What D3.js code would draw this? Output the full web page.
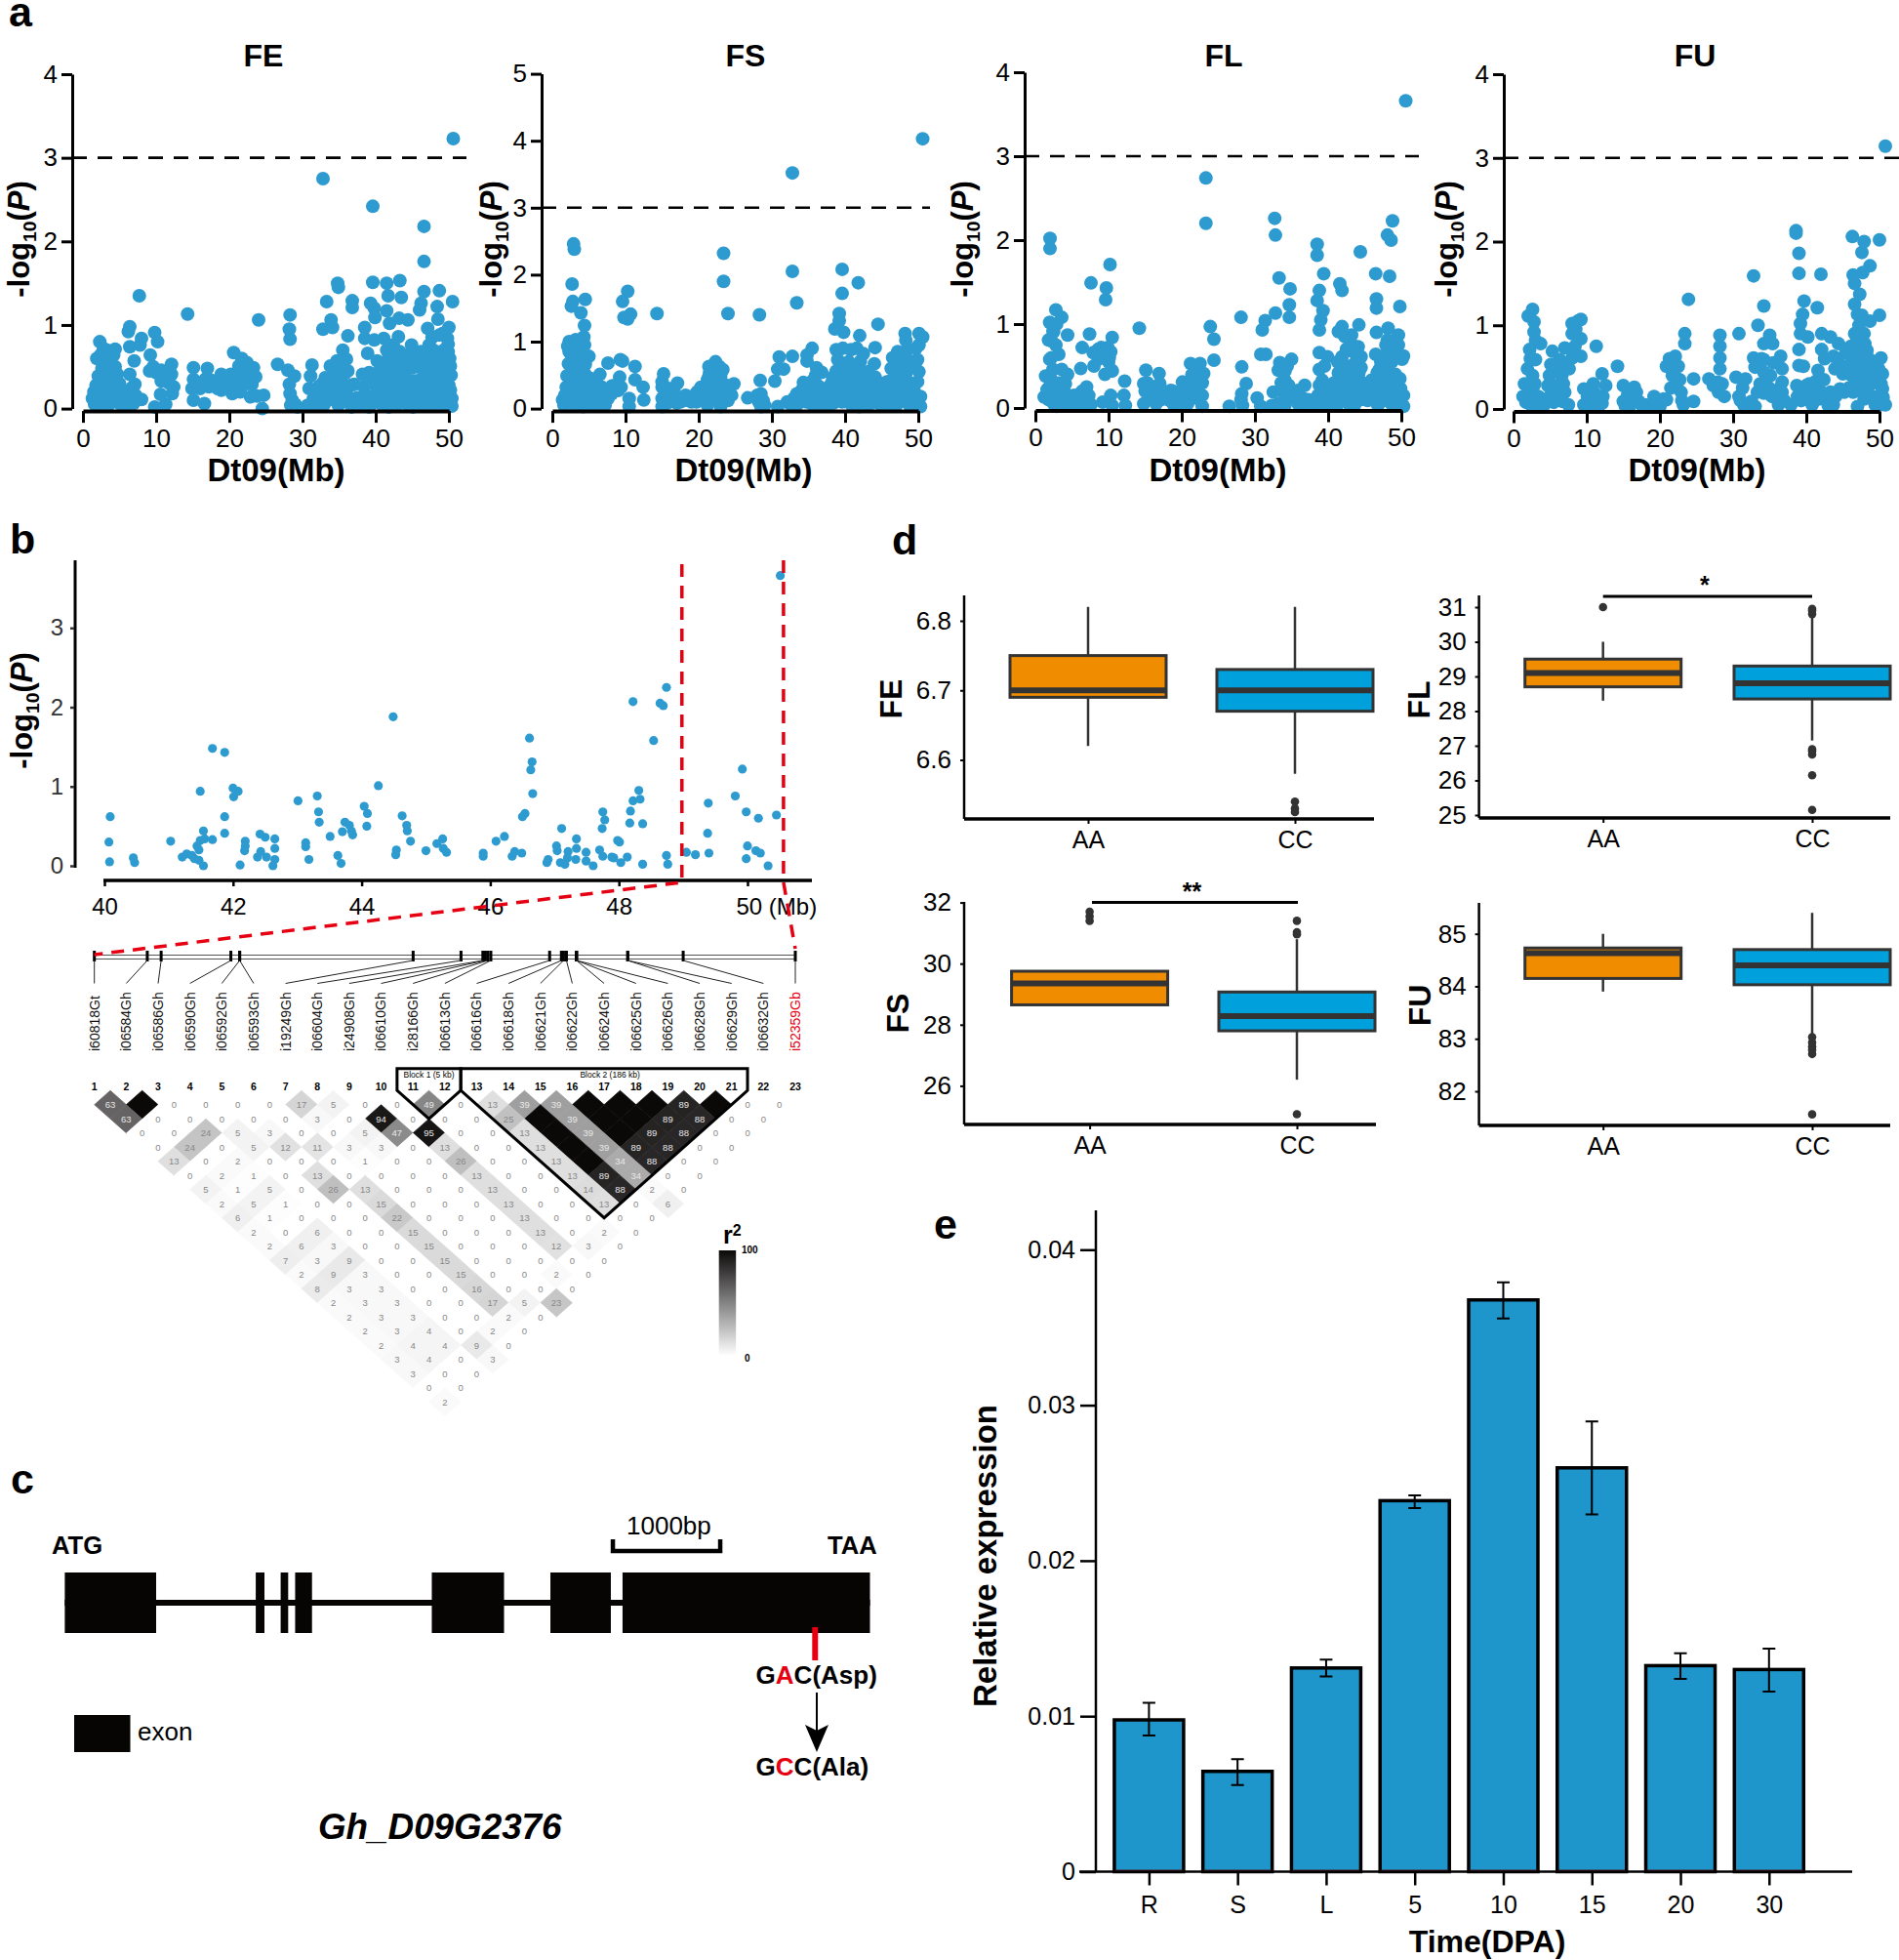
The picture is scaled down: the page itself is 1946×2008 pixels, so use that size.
<!DOCTYPE html>
<html>
<head>
<meta charset="utf-8">
<title>Dt09 association</title>
<script src="https://cdn.jsdelivr.net/npm/d3@7"></script>
<style>
body { margin: 0; background: #fff; }
svg text { font-family: "Liberation Sans", Arial, sans-serif; fill: #000; }
</style>
</head>
<body>
<div id="fig"></div>
<script>
// panel a : [Mb, -log10(P)]
var feDots = [[50.6,3.23],[32.8,2.75],[39.6,2.42],[46.6,2.18],[46.6,1.76],[7.7,1.35],[14.3,1.13],[24,1.06],[28.3,1.12],[28.2,.95],[28.3,.83],[33.3,1.28],[34.8,1.5],[34.9,1.45],[36.8,1.29],[36.8,1.21],[36.2,.87],[33.9,1.06],[34.1,.97],[32.8,.95],[35.5,.7],[39.6,1.51],[41.5,1.5],[43.3,1.53],[43.5,1.33],[41.7,1.35],[39.3,1.26],[39.8,1.2],[39.9,1.09],[41.5,1.17],[41.9,1.02],[43.2,1.08],[44.4,1.06],[46.6,1.4],[46.2,1.26],[46,1.18],[48.7,1.41],[48.4,1.22],[50.5,1.28],[48.5,1.07],[47.1,.96],[50,.97],[38.5,.97],[38.5,.84],
[2.3,.8],[4.4,.71],[6.4,.98],[6.2,.92],[9.8,.91],[10.2,.8],[8,.84],[6.4,.74],[7.8,.76],[9.2,.64],[7,.57],[2.4,.64],[3.6,.6],[4.2,.64],[3.8,.45],[2.1,.39],[6.4,.41],[4.7,.41],[7.1,.29],[1.8,.28],[1.3,.12],[2.9,.14],[4.7,.22],[6.4,.14],[8,.11],[5.6,.08],[3.8,.08],[2.2,.06],[6.9,.06],
[9.1,.45],[10.7,.46],[12.1,.53],[12.1,.41],[10.7,.33],[12.4,.26],[10.6,.17],[11.3,.05],[9.8,.02],[15.1,.49],[17,.48],[14.9,.24],[15.1,.1],[16.6,.06],[15.1,.35],[16.7,.35],[18,.29],[18.9,.41],[18.9,.22],[20.6,.67],[20.4,.18],[20.2,.41],[21.3,.51],[22.4,.55],[23.3,.49],[21.8,.33],[23.1,.29],[22.9,.14],[24.7,.16],[24.5,0],
[26.6,.53],[28,.46],[28.9,.39],[28.2,.29],[28.3,.18],[28.4,.04],[30.7,.04],[30.9,.24],[31.3,.52],[31.1,.39],[32.2,.26],[33.1,.37],[33.8,.51],[34.7,.57],[36,.59],[34.2,.41],[36.2,.45],[36.7,.28],[33.6,.2],[35.8,.16],[32.9,.04],[34.9,.04],[36.7,.02],[38,.04],[39.1,.02],[38.2,.41],[39.1,.43],[37.1,.29],[38.4,.26],
[38.9,.66],[40.2,.57],[39.8,.82],[41.1,.84],[43.1,.86],[44.9,.76],[42.4,.76],[43.3,.68],[41.8,.64],[44.2,.59],[41.8,.49],[43.3,.49],[45.1,.49],[41.3,.33],[42.9,.33],[44.4,.33],[40.7,.2],[42.4,.2],[44.2,.2],[41.8,.02],[42.9,.04],[40,.08],[45.6,.18],[44.4,.04],
[46.2,.68],[47.3,.76],[48.2,.57],[47.6,.49],[46.4,.37],[49.8,.84],[48.7,.88],[49.9,.68],[50.2,.51],[49.8,.37],[47.8,.33],[49.1,.33],[50.2,.22],[50,.12],[50.4,.03],[48.2,.2],[46.9,.14],[49.1,.06],[46.7,.04],[45.1,.02]];
var feDense = [[1.5,.2],[1.6,.05],[2,.18],[2.5,.3],[2.6,.48],[3,.4],[3.1,.22],[3.3,.55],[3.4,.03],[4,.3],[4.2,.15],[4.4,.5],[5,.06],[5,.3],[5.2,.18],[5.8,.2],[6,.03],[6.7,.25],[7.2,.16],[2.8,.72],[3.3,.7],[1.9,.6],
[9.6,.5],[10,.43],[11.3,.38],[11.8,.3],[12.2,.18],[15.6,.3],[16,.24],[16.4,.3],[17.2,.26],[17.5,.34],[18.4,.24],[19,.3],[19.5,.33],[20.8,.25],[21,.4],[21.5,.2],[22,.45],[22.5,.3],[23,.4],[23.6,.38],[23.8,.15],[21.7,.6],[22.8,.48],[20,.27],
[28.6,.1],[29,.05],[29.3,.02],[31.5,.12],[31.9,.03],[32.4,.13],[32.7,.3],[33.3,.26],[33.5,.1],[34,.3],[34.4,.13],[34.6,.25],[35.1,.35],[35.3,.48],[35.6,.28],[35.8,.42],[36.3,.14],[36.6,.05],[37.5,.13],
[38.9,.14],[39.4,.3],[39.7,.15],[40.2,.33],[40.5,.45],[40.7,.06],[41,.25],[41.2,.55],[41.3,.13],[41.5,.7],[41.9,.27],[42,.4],[42.1,.12],[42.5,.55],[42.6,.05],[42.8,.62],[43,.22],[43.1,.13],[43.5,.38],[43.6,.58],[43.8,.1],[43.9,.28],[44,.43],[44.6,.22],[44.7,.65],[45,.33],[45.3,.6],[45.4,.1],[45.5,.33],[45.9,.5],[45.9,.05],[46.4,.55],[46.5,.25],[46.6,.1],[47,.6],[47.1,.25],[47.3,.42],[47.4,.05],[47.7,.15],[47.9,.7],[48,.05],[48.4,.4],[48.6,.12],[48.9,.6],[49,.45],[49.3,.7],[49.4,.18],[49.5,.03],[49.6,.5],[50,.28],[50.1,.6],[50.3,.4],[50.4,.12],[49.9,.77],[49.2,.9],[47.7,.85]];

var fsDots = [[50.6,4.03],[32.8,3.52],[2.9,2.46],[3,2.38],[2.7,1.86],[2.8,1.6],[2.6,1.53],[3.9,1.43],[4.5,1.63],[4.4,1.24],[4.3,1.07],[2.3,1],[2.1,.93],[2.3,.85],[4.4,.95],[3.6,.88],[5,.78],[4.5,.66],[2.2,.67],[2,.49],[1.9,.32],[1.4,.13],[4.5,.51],[3.2,.42],[4.8,.37],[3,.22],[4.5,.17],[6.5,.51],[7.6,.68],[9.3,.73],[9.6,.71],[9.2,.47],[8.2,.34],[9.4,.32],[6.8,.32],[8.1,.22],[6.3,.17],[7.2,.05],[5.6,.05],[3.6,.05],[1.6,.05],
[10.3,1.75],[9.6,1.6],[10.7,1.41],[9.8,1.36],[10.3,1.34],[14.3,1.42],[11.3,.63],[11.3,.43],[12.4,.32],[10.5,.15],[12.5,.13],[10.5,.03],[15.2,.52],[15,.32],[15,.15],[17.1,.38],[16.1,.22],[15,.03],[17,.17],[18.8,.17],
[20.3,.32],[21.4,.63],[22.8,.63],[21.4,.49],[23,.49],[24.8,.37],[24.5,.2],[21,.27],[23.4,.37],[21.2,.05],[23,.03],[22.1,.32],[20.1,.15],[23,.2],[24,1.42],[23.4,2.32],[23.4,1.9],[28.3,1.4],[32.8,2.05],[33.4,1.58],[39.6,2.08],[39.6,1.72],[41.8,1.88],[44.5,1.26],
[28.4,.42],[26.7,.16],[28.5,.22],[28.5,.03],[30.4,.41],[30.8,.59],[31.6,.59],[31,.77],[32.8,.78],[30.8,.03],[35.5,.9],[34.8,.8],[34.8,.71],[36.1,.61],[36.8,.54],[36.3,.34],[34.3,.39],[33.4,.22],[32.1,.1],[35,.17],[36.5,.05],[38.1,.37],[37.9,.08],
[39.2,1.42],[39.2,1.31],[38.6,1.19],[39.8,1.14],[42,1.09],[41.6,.9],[44.1,.91],[44,.67],[38.8,.88],[39.7,.9],[39,.73],[40.8,.88],[38.8,.56],[42.1,.71],[42.3,.56],[39.9,.32],[39.2,.47],[40.6,.47],[42.3,.32],[44.1,.47],[40.1,.15],[41.9,.03],[43.6,.08],[45,.37],[44.5,.15],
[48.2,1.12],[48.3,1.02],[50.1,1.12],[50.6,1.07],[50.1,.95],[47.2,.85],[46.5,.76],[49.9,.73],[50.1,.55],[48.5,.88],[48.1,.76],[46.7,.61],[48.3,.51],[46.3,.42],[47.9,.32],[46.1,.25],[50.3,.18],[48.5,.22],[47.2,.13],[46.1,.05],[48.8,.05],[50.3,.03]];
var fsDense = [[1.7,.2],[2.2,.3],[2.5,.15],[2.6,.4],[2.7,.75],[3,.55],[3,.05],[3.1,.35],[3.4,.25],[3.5,.5],[3.9,.13],[3.9,.33],[4,.6],[4.2,.03],[4.4,.25],[4.7,.05],[4.9,.28],[5.2,.15],[5.4,.38],[5.6,.25],[5.9,.1],[6.2,.35],[6.4,.04],[6.7,.18],[7,.12],[7.4,.27],[7.6,.15],[7.9,.3],[8.5,.3],[8.8,.35],[9,.27],[5.2,.45],[3.6,.72],[3.2,1.03],
[15.4,.25],[15.7,.08],[15.9,.3],[16.3,.12],[16.6,.28],[17,.08],[17.5,.1],[18,.12],[18.2,.2],[19,.1],[19.4,.2],[19.7,.1],[15,.4],
[20.7,.2],[21.2,.43],[21.5,.55],[22,.48],[22.3,.7],[22.6,.4],[22.8,.25],[23.3,.58],[23.7,.27],[24,.12],[21.7,.12],[21.5,.3],[19.8,.25],[28,.2],[28.2,.1],[28.8,.12],[29,.05],
[32.5,.07],[33,.15],[33.4,.05],[33.8,.13],[34.1,.28],[34.5,.22],[34.7,.1],[35,.31],[35.3,.22],[35.6,.05],[35.6,.42],[36,.5],[36.2,.15],[36.7,.28],[37,.18],[37.4,.3],[37.5,.05],[38,.2],[38.3,.47],[38.4,.08],
[38.7,.35],[39.1,.22],[39.4,.62],[39.6,.1],[40,.6],[40.4,.22],[40.5,.7],[40.9,.05],[41,.35],[41.2,.13],[41.4,.55],[41.7,.42],[41.8,.25],[42.1,.15],[42.5,.82],[42.6,.45],[42.9,.25],[43.1,.05],[43.2,.55],[43.4,.35],[43.7,.2],[44.3,.3],[44.8,.25],[44.9,.05],[45.3,.12],[45.5,.27],[45.7,.4],[46,.15],[46.3,.6],[46.5,.3],[46.8,.42],[47,.05],[47.2,.55],[47.4,.3],[47.6,.68],[47.7,.12],[47.9,.45],[48.2,.3],[48.4,.1],[48.8,.6],[48.9,.38],[49,.15],[49.2,.7],[49.4,.28],[49.7,.1],[49.7,.9],[49.9,.4]];

var flDots = [[50.6,3.66],[23.3,2.74],[23.3,2.2],[32.7,2.26],[32.8,2.06],[48.8,2.23],[48.1,2.06],[48.6,2],[38.5,1.95],[38.5,1.82],[44.4,1.86],[2,2.02],[2,1.9],[10.2,1.71],[7.6,1.49],[9.7,1.43],[9.6,1.29],[39.4,1.6],[33.3,1.55],[34.8,1.42],[34.7,1.23],[34.7,1.08],[32.8,1.13],[46.5,1.6],[48.4,1.57],[41.6,1.48],[41.9,1.4],[46.6,1.3],[46.6,1.19],[49.8,1.21],[38.8,1.4],[38.5,1.28],[39.3,1.16],[39,1.05],[38.8,.93],[44.2,.99],[28.1,1.08],[23.9,.97],[24.4,.82],[24.4,.57],[31.4,1.04],[31,.93],[14.2,.95],
[2.8,1.17],[3.6,1.08],[1.96,1.02],[2.5,.91],[4.4,.87],[1.8,.81],[2.8,.75],[3.2,.64],[1.96,.58],[1.4,.38],[3.6,.46],[4.4,.4],[1.9,.25],[1.2,.13],[4.1,.29],[2.5,.05],[4.5,.15],[7,.25],[6.1,.17],[6.8,.05],[5,.05],
[7.4,.88],[6.4,.72],[6.2,.47],[7.9,.66],[8,.5],[9,.72],[10.5,.84],[10.3,.67],[10.5,.44],[9.5,.4],[9.2,.07],[10.3,.15],[12.2,.32],[12.1,.15],[12.3,.03],[10.5,.03],
[15.1,.45],[16.9,.41],[14.8,.29],[15.6,.21],[14.8,.05],[16.5,.05],[17,.29],[18.5,.21],[18.8,.05],[20.1,.31],[21.2,.53],[22.5,.53],[23,.41],[21.4,.4],[22.1,.29],[20.5,.17],[22.8,.15],[22.8,.02],[19.6,.07],
[26.5,.02],[28.2,.49],[28.8,.29],[28.2,.17],[28.3,.03],[30.3,.12],[30.8,.02],[32.3,.03],[30.8,.64],[31.5,.64],[33.4,.54],[35,.58],[34.1,.44],[34.1,.33],[32.5,.19],[34.1,.15],[34.1,.03],[36.8,.27],[35.9,.21],[35.9,.05],[37.9,.07],
[38.8,.66],[39.9,.61],[38.8,.46],[39.2,.33],[39.2,.17],[39.6,.03],[41.4,.91],[41.9,.97],[42.3,.85],[43.2,.87],[44.1,.73],[43.4,.67],[41.9,.61],[44.5,.61],[43,.5],[44.5,.48],[41.4,.42],[42.8,.33],[44.3,.33],[41.6,.21],[43.2,.17],[41.2,.03],[43.6,.03],
[46.6,.9],[48.2,.95],[49.6,.87],[48.1,.81],[49.6,.75],[46.5,.64],[50.3,.62],[50.1,.58],[47.6,.62],[48.1,.48],[47,.46],[49.2,.4],[45.9,.33],[47.8,.33],[49.9,.23],[50.3,.15],[46.8,.19],[48.1,.13],[45.4,.09],[46.8,.03],[48.8,.03],[50.3,.02]];
var flDense = [[1.6,.22],[1.8,.1],[2.1,.35],[2.2,.6],[2.2,.15],[2.4,.92],[2.4,.46],[2.8,.3],[2.9,.02],[2.9,1],[3,.2],[3.3,.1],[3.5,.3],[3.8,.04],[4,.18],[4.8,.1],[5.3,.15],[5.7,.03],[5.9,.12],[6.4,.2],[6.6,.12],[7.3,.15],[7.6,.04],[2.2,.8],
[8.6,.58],[8.8,.63],[9.4,.6],[10,.55],[10.4,.45],[9.9,.72],[10.1,.6],[8.6,.7],
[15,.2],[15.3,.3],[15.4,.1],[16,.15],[16.3,.25],[16.7,.12],[17.2,.1],[17.6,.15],[18.1,.1],[18.8,.2],[19.2,.12],[20,.2],[20.6,.3],[21,.2],[21.4,.28],[21.7,.12],[22,.42],[22.3,.15],[22.6,.4],[22.8,.3],[20.8,.05],[19.9,.05],
[28.1,.1],[33.2,.45],[33.6,.3],[33.9,.22],[34.4,.5],[34.6,.27],[33.2,.05],[34.5,.1],[35,.12],[36,.13],[36.5,.12],[36.9,.05],[37.3,.1],[38.2,.05],[38.6,.15],[38.8,.27],
[39.5,.5],[39.9,.2],[40.3,.1],[40.6,.05],[40.8,.3],[41.1,.15],[41.3,.55],[41.7,.35],[42,.25],[42.2,.12],[42.3,.48],[42.5,.7],[42.8,.05],[43,.28],[43.3,.75],[43.6,.38],[43.7,.12],[43.8,.55],[44,.22],[44.2,.42],[44.5,.1],[44.7,.22],[45.2,.2],[45.5,.28],[45.7,.12],[46.2,.25],[46.4,.1],[46.7,.42],[47.1,.28],[47.2,.55],[47.3,.08],[47.5,.2],[47.7,.45],[47.9,.75],[48.3,.25],[48.5,.07],[48.6,.35],[48.9,.15],[49,.68],[49.1,.05],[49.4,.25],[49.6,.1],[49.8,.35],[50,.05],[48.7,.55]];

var fuDots = [[50.8,3.14],[38.6,2.13],[38.6,2.1],[39,1.86],[39,1.62],[42,1.61],[32.8,1.59],[23.9,1.31],[34.2,1.23],[39.7,1.29],[39.5,1.13],[41.5,1.21],[33.4,1],[30.8,.9],[35,.88],[23.4,.9],[23.4,.78],[46.3,2.06],[47.9,2],[47.6,1.87],[50,2.02],[48.7,1.71],[47.7,1.63],[46.4,1.6],[46.6,1.5],[47.3,1.37],[46.6,1.25],[47,1.13],[50,1.12],[48.7,1.05],
[39.2,1.02],[39.2,.9],[39,.71],[40.2,.86],[42.1,.9],[42.1,.71],[43.3,.86],[44.4,.78],[43.7,.63],[44.6,.53],[45.4,.67],[46.6,.9],[47.9,.9],[48,.78],[47,.67],[47,.51],[48.7,.59],[50.2,.61],[46.2,.4],[48.7,.4],[50.4,.42],[50.4,.24],[47.9,.28],[49.1,.13],[47,.03],[50.8,.05],[44.6,.24],[42.1,.2],[41.6,.46],[39.6,.51],[40,.28],[38.7,.28],[36.7,.2],[37.9,.05],[40.8,.05],[43.7,.05],[36.2,.05],
[35.4,.78],[34.2,.78],[34.2,.59],[36.5,.63],[36.7,.48],[34.2,.44],[32.8,.61],[33.7,.3],[36.7,.32],[32.5,.09],[34.2,.19],[30.4,.38],[31.7,.36],[30.8,.15],
[28.2,.88],[28.2,.75],[28.2,.61],[28.2,.48],[27.9,.32],[28.8,.15],[26.7,.36],[24.6,.36],[24.6,.09],[23.2,.05],[22.1,.63],[20.9,.51],[21.7,.4],[22.5,.51],[22.1,.28],[22.9,.2],[19.2,.15],[20.9,.11],[18,.05],
[14.2,.51],[15,.28],[16.5,.26],[15,.09],[17.1,.09],[9.6,.24],[10.9,.3],[12.1,.42],[11.3,.75],[12.6,.28],[9.6,.05],[12.1,.07],
[2.6,1.19],[2,1.11],[2.8,1.04],[2.8,.92],[3.7,.78],[2.2,.71],[3,.59],[1.9,.48],[2.6,.4],[1.3,.15],[2.6,.24],[4.2,.05],[4.7,.28],[5.3,.69],[5.1,.53],[7,.73],[6.3,.59],[8,1.02],[9.2,1.07],[8,.9],[9.2,.84],[9.2,.63],[7.6,.48],[6.3,.28],[6.7,.09],[8.8,1.05],[8,.61]];
var fuDense = [[1.5,.3],[1.7,.08],[2,.2],[2.4,.05],[2.9,.3],[3.1,.1],[3.4,.15],[3.6,.05],[3,.82],[2.3,.6],[4.5,.12],[4.9,.4],[5.2,.2],[5.5,.08],[5.8,.28],[6,.45],[6.2,.12],[6.6,.4],[7,.2],[7.3,.55],[7.5,.05],[8.4,.75],[8.5,.95],[8.8,.85],[6.8,.3],
[10.1,.15],[10.2,.05],[10.8,.1],[11,.2],[11.5,.12],[11.6,.03],[12.2,.15],
[15.6,.17],[15.3,.03],[16,.05],[16.8,.2],[17.5,.05],[18.5,.03],[19.5,.08],[20,.03],[20.5,.12],[21.8,.55],[21.3,.6],[21.5,.25],[22,.4],[22.7,.35],[23,.1],
[28.5,.3],[28,.2],[27.3,.28],[31,.1],[31.3,.25],[31.5,.04],[32,.05],[33,.03],[33.3,.2],[33,.5],[33.9,.6],[34.5,.35],[34.9,.25],[35.1,.4],[35.3,.15],[35.5,.55],[37,.1],[36.4,.25],
[38.8,.15],[39,.52],[39.3,.1],[39.6,.2],[40.4,.3],[40.6,.15],[41,.22],[41.3,.33],[41.7,.12],[42.4,.35],[42.7,.12],[42.5,.6],[43,.04],[43.3,.2],[43.9,.48],[44,.15],[44.3,.6],[45,.42],[45.2,.2],[45.7,.5],[45.8,.25],[46.1,.75],[46.2,.6],[46.4,.2],[46.6,.35],[46.9,.85],[47.2,1],[47.3,.4],[47.3,.75],[47.5,.22],[47.6,1.12],[47.7,.55],[47.9,.12],[48.2,.45],[48.3,.7],[48.4,.2],[48.9,.3],[49.2,.5],[49.4,.05],[49.6,.33],[49.7,.15],[49.9,.48],[50,.05],[50.2,.3],[50.5,.14]];

var xTicksA = [0,10,20,30,40,50];
var threshold = 3;

// panel b
var zoomDots = [[40.09,.62],[40.07,.3],[40.08,.05],[40.45,.1],[40.47,.04],[41.03,.31],[41.21,.11],[41.28,.15],[41.36,.13],[41.4,.09],[41.44,.25],[41.47,.2],[41.49,.32],[41.49,.94],[41.54,.44],[41.54,0],[41.47,.07],[41.56,.34],[41.68,.33],[41.68,1.48],[41.87,1.43],[41.87,.62],[41.87,.41],[42,.98],[42.01,.87],[42.08,.94],[42.11,.01],[42.19,.31],[42.19,.25],[42.18,.19],[42.42,.4],[42.38,.11],[42.43,.18],[42.5,.36],[42.52,.11],[42.65,.34],[42.65,.22],[42.62,0],[42.65,.08],
[43.01,.82],[43.31,.88],[43.33,.68],[43.34,.55],[43.13,.29],[43.13,.24],[43.18,.08],[43.51,.37],[43.63,.13],[43.68,.03],[43.7,.43],[43.74,.55],[43.81,.51],[43.84,.44],[43.86,.39],[44.04,.75],[44.09,.66],[44.08,.5],[44.26,1.01],[44.49,1.88],[44.63,.63],[44.7,.51],[44.71,.44],[44.76,.31],[44.54,.2],[44.53,.14],
[45,.19],[45.17,.28],[45.26,.34],[45.27,.22],[45.32,.17],[45.89,.16],[45.89,.12],[46.09,.31],[46.22,.37],[46.34,.12],[46.38,.18],[46.49,.16],[46.5,.62],[46.54,.66],[46.61,1.61],[46.65,1.31],[46.63,1.21],[46.66,.91],
[46.88,.04],[46.9,.08],[47.03,.25],[47.04,.19],[47.11,.47],[47.09,.04],[47.16,.02],[47.21,.18],[47.2,.1],[47.34,.34],[47.34,.22],[47.33,.08],[47.49,.17],[47.49,.06],[47.6,0],[47.7,.2],[47.74,.47],[47.75,.68],[47.78,.58],[47.75,.12],[47.89,.11],[47.92,.1],[47.98,.32],[48.01,.3],[48.03,.04],[48.13,.11],[48.17,.54],[48.18,.69],[48.22,2.07],[48.22,.82],[48.33,.84],[48.31,.95],[48.37,.53],[48.37,.02],[48.54,1.58],[48.64,2.05],[48.69,2.02],[48.74,2.25],[48.74,.13],[48.76,.02],
[49.05,.17],[49.19,.14],[49.39,.79],[49.38,.41],[49.4,.16],[49.81,.88],[49.92,1.22],[49.98,.68],[50,.25],[49.98,.09],[50.17,.6],[50.13,.19],[50.2,.16],[50.32,0],[50.45,.64],[50.51,3.66]];
var zoomStart = 48.98, zoomEnd = 50.56;

var markerNames = ["i60818Gt","i06584Gh","i06586Gh","i06590Gh","i06592Gh","i06593Gh","i19249Gh","i06604Gh","i24908Gh","i06610Gh","i28166Gh","i06613Gh","i06616Gh","i06618Gh","i06621Gh","i06622Gh","i06624Gh","i06625Gh","i06626Gh","i06628Gh","i06629Gh","i06632Gh","i52359Gb"];
var markerKb = [0,126,159,325,346,346,759,873,925,931,937,944,1084,1112,1117,1124,1148,1148,1148,1270,1270,1402,1669];

// r2 x 100, one list per marker distance : ldRows[0] = neighbours, first value = marker 1 with marker 2
var ldRows = [
 [63,100,0,0,0,0,17,5,0,0,49,0,13,39,39,100,100,100,89,100,0,0],
 [63,0,0,0,0,0,3,0,94,0,0,0,25,100,39,100,100,89,88,0,0],
 [0,0,24,5,3,0,0,5,47,95,0,0,13,100,39,100,89,88,0,0],
 [0,24,0,5,12,11,3,3,0,13,0,0,13,100,39,89,88,0,0],
 [13,0,2,0,0,0,1,0,0,26,0,0,13,100,34,88,0,0],
 [0,2,1,0,13,0,0,0,0,13,0,0,13,89,34,0,0],
 [5,1,5,0,26,13,0,0,0,13,0,0,14,88,2,0],
 [2,5,1,0,0,15,0,0,0,13,0,0,13,0,6],
 [6,1,0,0,0,22,0,0,0,13,0,0,0,0],
 [2,0,6,0,0,15,0,0,0,13,0,2,0],
 [2,6,3,0,0,15,0,0,0,12,3,0],
 [7,3,9,0,0,15,0,0,0,0,0],
 [2,9,3,0,0,15,0,0,2,0],
 [8,3,3,0,0,16,0,0,0],
 [2,3,3,0,0,17,5,23],
 [2,3,3,0,0,2,0],
 [2,3,4,0,2,0],
 [2,4,4,9,0],
 [3,4,0,3],
 [3,0,0],
 [0,0],
 [2]
];
var ldBlocks = [{from:11,to:12,label:"Block 1 (5 kb)"},{from:13,to:21,label:"Block 2 (186 kb)"}];

// panel c, bp from the start of the gene
var exons = [[0,851],[1779,1860],[2011,2081],[2146,2303],[3419,4092],[4524,5087],[5196,7501]];
var snpBp = 6990;

// panel d
var feBox = [{g:"AA",lo:6.62,q1:6.69,med:6.7,q3:6.75,hi:6.82,out:[]},{g:"CC",lo:6.58,q1:6.67,med:6.7,q3:6.73,hi:6.82,out:[6.54,6.53,6.525]}];
var flBox = [{g:"AA",lo:28.3,q1:28.7,med:29.1,q3:29.5,hi:30,out:[31]},{g:"CC",lo:27.15,q1:28.35,med:28.8,q3:29.3,hi:30.7,out:[30.8,30.9,30.95,26.9,26.85,26.75,26.15,25.15]}];
var fsBox = [{g:"AA",lo:28.65,q1:28.65,med:29.35,q3:29.75,hi:29.75,out:[31.4,31.55,31.7]},{g:"CC",lo:26.2,q1:27.8,med:28.28,q3:29.07,hi:30.8,out:[31.03,30.96,31.4,25.07]}];
var fuBox = [{g:"AA",lo:83.9,q1:84.15,med:84.63,q3:84.73,hi:85,out:[]},{g:"CC",lo:83.08,q1:84.03,med:84.4,q3:84.7,hi:85.4,out:[83.03,82.93,82.85,82.79,82.71,81.56]}];

// panel e
var times = ["R","S","L","5","10","15","20","30"];
var expr = [.00976,.00645,.0131,.02386,.03677,.02597,.01325,.013];
var exprHi = [.01086,.00724,.01363,.0242,.0379,.02896,.01404,.01435];
var exprLo = [.00875,.00557,.01256,.02339,.03557,.02298,.0124,.01158];

var blue = "#2e9bd0";
var svg = d3.select("#fig").append("svg").attr("width",1946).attr("height",2008).style("display","block");
svg.append("rect").attr("width",1946).attr("height",2008).attr("fill","#fff");

function panelLabel(s,x,y) {
  svg.append("text").attr("x",x).attr("y",y).attr("font-size",43).attr("font-weight","bold").text(s);
}
function logLabel(g,x,y,size) {
  // -log10(P) turned on its side
  var t = g.append("text").attr("transform","translate("+x+","+y+") rotate(-90)")
    .attr("text-anchor","middle").attr("font-size",size).attr("font-weight","bold");
  t.append("tspan").text("-log");
  t.append("tspan").attr("font-size",size*.62).attr("dy",size*.22).text("10");
  t.append("tspan").attr("dy",-size*.22).text("(");
  t.append("tspan").attr("font-style","italic").text("P");
  t.append("tspan").text(")");
}
function axisStyle(g,size,w,col) {
  g.selectAll("text").attr("font-size",size).style("fill",col||"#000");
  g.selectAll("line").attr("stroke",col||"#000").attr("stroke-width",w);
  g.selectAll(".domain").attr("stroke",col||"#000").attr("stroke-width",w);
}

// ---- a
function gwas(o) {
  var g = svg.append("g");
  var x = d3.scaleLinear().domain([0,50]).range([o.x0,o.x50]);
  var y = d3.scaleLinear().domain([0,o.ymax]).range([o.y0,o.ytop]);
  g.selectAll("circle").data(o.dots).enter().append("circle")
    .attr("cx",d=>x(d[0])).attr("cy",d=>y(d[1])).attr("r",7).attr("fill",blue);
  var ya = g.append("g").attr("transform","translate("+o.ax+",0)")
    .call(d3.axisLeft(y).ticks(o.ymax).tickFormat(d3.format("d")).tickSize(11).tickSizeOuter(0).tickPadding(4));
  axisStyle(ya,26,3);
  var xa = g.append("g").attr("transform","translate(0,"+(o.y0+2.5)+")")
    .call(d3.axisBottom(x).tickValues(xTicksA).tickSize(12).tickSizeOuter(0).tickPadding(6));
  axisStyle(xa,26,3);
  xa.select(".domain").attr("stroke-width",4);
  g.append("line").attr("x1",o.ax).attr("x2",o.dashEnd).attr("y1",y(threshold)).attr("y2",y(threshold))
    .attr("stroke","#000").attr("stroke-width",2.6).attr("stroke-dasharray","15,11");
  g.append("text").attr("x",o.titleX).attr("y",68).attr("text-anchor","middle").attr("font-size",32).attr("font-weight","bold").text(o.title);
  g.append("text").attr("x",o.xlabX).attr("y",493).attr("text-anchor","middle").attr("font-size",33).attr("font-weight","bold").text("Dt09(Mb)");
  logLabel(g,o.logX,245,31);
}
gwas({title:"FE",dots:feDots.concat(feDense),ymax:4,ax:74,x0:85,x50:460,y0:418.6,ytop:76,dashEnd:478,titleX:270,xlabX:283,logX:30});
gwas({title:"FS",dots:fsDots.concat(fsDense),ymax:5,ax:555,x0:566,x50:941,y0:418.6,ytop:75.6,dashEnd:953,titleX:764,xlabX:762,logX:514});
gwas({title:"FL",dots:flDots.concat(flDense),ymax:4,ax:1050,x0:1061,x50:1436,y0:418,ytop:74,dashEnd:1454,titleX:1254,xlabX:1248,logX:997});
gwas({title:"FU",dots:fuDots.concat(fuDense),ymax:4,ax:1541,x0:1551,x50:1926,y0:419,ytop:76,dashEnd:1946,titleX:1737,xlabX:1739,logX:1493});

// ---- b manhattan
var gb = svg.append("g");
var xb = d3.scaleLinear().domain([40,50]).range([107,766]);
var yb = d3.scaleLinear().domain([0,3]).range([887,643.3]);
gb.selectAll("circle").data(zoomDots).enter().append("circle")
  .attr("cx",d=>xb(d[0])).attr("cy",d=>yb(d[1])).attr("r",4.6).attr("fill",blue);
gb.append("line").attr("x1",77).attr("x2",77).attr("y1",574).attr("y2",889).attr("stroke","#000").attr("stroke-width",3);
gb.append("line").attr("x1",106).attr("x2",832).attr("y1",902).attr("y2",902).attr("stroke","#000").attr("stroke-width",3.5);
var yba = gb.append("g").attr("transform","translate(76,0)")
  .call(d3.axisLeft(yb).tickValues([0,1,2,3]).tickFormat(d3.format("d")).tickSize(4).tickPadding(7));
yba.select(".domain").remove();
axisStyle(yba,24,2.5,"#333");
var xba = gb.append("g").attr("transform","translate(0,902)")
  .call(d3.axisBottom(xb).tickValues([40,42,44,46,48,50]).tickFormat(d=>d==50?"50 (Mb)":d).tickSize(6).tickPadding(12));
xba.select(".domain").remove();
axisStyle(xba,24,2.5);
xba.selectAll("text").filter(d=>d==50).attr("text-anchor","start").attr("dx",-12);
logLabel(gb,33,728,31);

// ---- b LD track
var gt = svg.append("g");
var xk = d3.scaleLinear().domain([0,1669]).range([96.7,815]);
var xm = d3.scaleLinear().domain([1,23]).range([96.7,815]);
gt.append("line").attr("x1",xk(0)).attr("x2",xk(1669)).attr("y1",978.5).attr("y2",978.5).attr("stroke","#555").attr("stroke-width",1);
gt.append("line").attr("x1",xk(0)).attr("x2",xk(1669)).attr("y1",982.5).attr("y2",982.5).attr("stroke","#555").attr("stroke-width",1);
gt.selectAll(".tk").data(markerKb).enter().append("rect").attr("class","tk")
  .attr("x",d=>xk(d)-1.5).attr("width",3).attr("y",974).attr("height",11).attr("fill","#000");
gt.selectAll(".cn").data(markerKb).enter().append("line").attr("class","cn")
  .attr("x1",d=>xk(d)).attr("y1",984).attr("x2",(d,i)=>xm(i+1)).attr("y2",1007.5)
  .attr("stroke","#222").attr("stroke-width",1);
gt.selectAll(".nm").data(markerNames).enter().append("text").attr("class","nm")
  .attr("transform",(d,i)=>"translate("+xm(i+1)+",1077) rotate(-90)")
  .attr("dy",".35em").attr("font-size",14).text(d=>d)
  .style("fill",(d,i)=>i==22?"#e60012":"#111");

// ---- b LD matrix
var yr = d3.scaleLinear().domain([1,22]).range([1131.7,1436.2]);
var grey = d3.scaleLinear().domain([0,100]).range(["#ffffff","#0b0808"]);
var cw = 16.3, ch = 14.5;
var cells = [];
ldRows.forEach(function(row,k) {
  row.forEach(function(v,i) { cells.push({i:i+1,r:k+1,v:v}); });
});
var gc = svg.append("g");
gc.selectAll("path").data(cells).enter().append("path")
  .attr("d",function(d) {
    var cx = xm(d.i+d.r/2), cy = yr(d.r);
    return "M"+cx+","+(cy-ch)+"L"+(cx+cw)+","+cy+"L"+cx+","+(cy+ch)+"L"+(cx-cw)+","+cy+"Z";
  }).attr("fill",d=>grey(d.v)).attr("stroke",d=>d.v>0?grey(d.v):"none").attr("stroke-width",.7);
gc.selectAll("text").data(cells.filter(d=>d.v<100)).enter().append("text")
  .attr("x",d=>xm(d.i+d.r/2)).attr("y",d=>yr(d.r)).attr("dy",".35em").attr("text-anchor","middle")
  .attr("font-size",9.5).text(d=>d.v).style("fill",d=>d.v>=30?"#e8e8e8":"#888");
gc.selectAll(".num").data(markerNames).enter().append("text").attr("class","num")
  .attr("x",(d,i)=>xm(i+1)).attr("y",1117).attr("text-anchor","middle")
  .attr("font-size",10.5).attr("font-weight","bold").text((d,i)=>i+1);
ldBlocks.forEach(function(b) {
  var left = xm(b.from-.5), right = xm(b.to+.5), mid = xm((b.from+b.to)/2);
  var top = 1094.7, sh = yr(1)-ch, bottom = yr(b.to-b.from)+ch;
  gc.append("path").attr("d","M"+left+","+top+"L"+right+","+top+"L"+right+","+sh+"L"+mid+","+bottom+"L"+left+","+sh+"Z")
    .attr("fill","none").attr("stroke","#000").attr("stroke-width",3);
  gc.append("text").attr("x",mid+(b.from==13?6:0)).attr("y",1104).attr("text-anchor","middle").attr("font-size",8.5).text(b.label);
});
// r2 key
var defs = svg.append("defs");
var lg = defs.append("linearGradient").attr("id","r2key").attr("x1",0).attr("x2",0).attr("y1",0).attr("y2",1);
[100,75,50,25,0].forEach(function(v) { lg.append("stop").attr("offset",(100-v)+"%").attr("stop-color",grey(v)); });
gc.append("rect").attr("x",736.7).attr("y",1281).attr("width",17.5).attr("height",108).attr("fill","url(#r2key)");
var r2 = gc.append("text").attr("x",741).attr("y",1274).attr("font-size",25).attr("font-weight","bold").attr("text-anchor","start");
r2.append("tspan").text("r");
r2.append("tspan").attr("font-size",16).attr("dy",-8).text("2");
gc.append("text").attr("x",760).attr("y",1284).attr("font-size",10).attr("font-weight","bold").text("100");
gc.append("text").attr("x",763).attr("y",1395).attr("font-size",10).attr("font-weight","bold").text("0");

// red zoom guides, over everything
var gr = svg.append("g").attr("fill","none").attr("stroke","#e60012").attr("stroke-width",3.5).attr("stroke-dasharray","13,9");
gr.append("path").attr("d","M"+xb(zoomStart)+",578L"+xb(zoomStart)+",904L"+xk(0)+",978");
gr.append("path").attr("d","M"+xb(zoomEnd)+",574L"+xb(zoomEnd)+",904L"+xk(1669)+",972");

// ---- c gene model
var gg = svg.append("g");
var xg = d3.scaleLinear().domain([0,7501]).range([66.4,891.5]);
gg.append("line").attr("x1",xg(0)).attr("x2",xg(7501)).attr("y1",1642).attr("y2",1642).attr("stroke","#070404").attr("stroke-width",6);
gg.selectAll("rect").data(exons).enter().append("rect")
  .attr("x",d=>xg(d[0])).attr("width",d=>xg(d[1])-xg(d[0])).attr("y",1611).attr("height",62).attr("fill","#070404");
gg.append("line").attr("x1",xg(snpBp)).attr("x2",xg(snpBp)).attr("y1",1667).attr("y2",1701).attr("stroke","#e60012").attr("stroke-width",6);
gg.append("path").attr("d","M"+xg(5196-90)+",1577V1589H"+xg(5196+910)+"V1577").attr("fill","none").attr("stroke","#000").attr("stroke-width",4.5);
function gtext(s,x,y,size,bold) {
  return gg.append("text").attr("x",x).attr("y",y).attr("font-size",size).attr("font-weight",bold?"bold":"normal").text(s);
}
gtext("1000bp",642,1572,26);
gtext("ATG",53,1592,25.6,true);
gtext("TAA",848,1592,25.6,true);
function codon(a,b,c,y) {
  var t = gg.append("text").attr("x",774.6).attr("y",y).attr("font-size",26).attr("font-weight","bold");
  t.append("tspan").text(a);
  t.append("tspan").style("fill","#e60012").text(b);
  t.append("tspan").text(c);
}
codon("G","A","C(Asp)",1725);
codon("G","C","C(Ala)",1819);
gg.append("line").attr("x1",837).attr("x2",837).attr("y1",1734).attr("y2",1775).attr("stroke","#000").attr("stroke-width",2);
gg.append("path").attr("d","M837,1795L825,1767L837,1773L849,1767Z").attr("fill","#000");
gg.append("rect").attr("x",76).attr("y",1757).attr("width",57.5).attr("height",38).attr("fill","#070404");
gtext("exon",141,1783,26);
gtext("Gh_D09G2376",326,1884,36.8,true).attr("font-style","italic");

// ---- d
function boxes(o) {
  var g = svg.append("g");
  var x = d3.scalePoint().domain(["AA","CC"]).range(o.cx);
  var y = d3.scaleLinear().domain(o.ref).range(o.refY);
  o.data.forEach(function(d) {
    var cx = x(d.g);
    g.append("line").attr("x1",cx).attr("x2",cx).attr("y1",y(d.lo)).attr("y2",y(d.hi)).attr("stroke","#333").attr("stroke-width",2.5);
    g.append("rect").attr("x",cx-80).attr("width",160).attr("y",y(d.q3)).attr("height",y(d.q1)-y(d.q3))
      .attr("fill",d.g=="AA"?"#f08c00":"#00a0dc").attr("stroke","#333").attr("stroke-width",3);
    g.append("line").attr("x1",cx-80).attr("x2",cx+80).attr("y1",y(d.med)).attr("y2",y(d.med)).attr("stroke","#333").attr("stroke-width",6);
    g.selectAll(null).data(d.out).enter().append("circle")
      .attr("cx",cx).attr("cy",v=>y(v)).attr("r",4.3).attr("fill","#333");
  });
  g.append("line").attr("x1",o.ax).attr("x2",o.ax).attr("y1",o.top).attr("y2",o.bottom).attr("stroke","#000").attr("stroke-width",2.5);
  g.append("line").attr("x1",o.ax).attr("x2",o.xEnd).attr("y1",o.bottom).attr("y2",o.bottom).attr("stroke","#000").attr("stroke-width",3.5);
  var ya = g.append("g").attr("transform","translate("+o.ax+",0)")
    .call(d3.axisLeft(y).tickValues(o.ticks).tickFormat(o.fmt).tickSize(4).tickPadding(9));
  ya.select(".domain").remove();
  axisStyle(ya,26,2);
  var xa = g.append("g").attr("transform","translate(0,"+o.bottom+")")
    .call(d3.axisBottom(x).tickSize(5).tickPadding(7.5));
  xa.select(".domain").remove();
  axisStyle(xa,25,2);
  g.append("text").attr("transform","translate("+o.labX+","+o.labY+") rotate(-90)").attr("text-anchor","middle")
    .attr("font-size",32).attr("font-weight","bold").text(o.name);
  if (o.sig) {
    g.append("line").attr("x1",o.sig.x1).attr("x2",o.sig.x2).attr("y1",o.sig.y).attr("y2",o.sig.y).attr("stroke","#000").attr("stroke-width",3);
    g.append("text").attr("x",(o.sig.x1+o.sig.x2)/2-3).attr("y",o.sig.y-3).attr("text-anchor","middle")
      .attr("font-size",25).attr("font-weight","bold").text(o.sig.s);
  }
}
boxes({name:"FE",data:feBox,cx:[1115,1327],ref:[6.6,6.8],refY:[778.5,636],ticks:[6.6,6.7,6.8],fmt:d3.format(".1f"),ax:988,top:610,bottom:839,xEnd:1408,labX:924,labY:716});
boxes({name:"FL",data:flBox,cx:[1642.7,1857],ref:[25,31],refY:[835,622],ticks:[25,26,27,28,29,30,31],fmt:d3.format("d"),ax:1515.6,top:610,bottom:838,xEnd:1937,labX:1465,labY:717,sig:{x1:1642.7,x2:1857,y:611,s:"*"}});
boxes({name:"FS",data:fsBox,cx:[1116.6,1329],ref:[26,32],refY:[1112.4,924.6],ticks:[26,28,30,32],fmt:d3.format("d"),ax:988,top:924,bottom:1152,xEnd:1410,labX:931,labY:1038,sig:{x1:1119,x2:1330,y:924.6,s:"**"}});
boxes({name:"FU",data:fuBox,cx:[1642.7,1857],ref:[82,85],refY:[1118,956.7],ticks:[82,83,84,85],fmt:d3.format("d"),ax:1515.6,top:925,bottom:1153,xEnd:1937,labX:1466,labY:1030});

// ---- e
var ge = svg.append("g");
var xe = d3.scalePoint().domain(times).range([1177.4,1812.8]);
var ye = d3.scaleLinear().domain([0,.04]).range([1917.5,1280.3]);
ge.selectAll(".bar").data(times).enter().append("rect").attr("class","bar")
  .attr("x",d=>xe(d)-35.5).attr("width",71).attr("y",(d,i)=>ye(expr[i])).attr("height",(d,i)=>ye(0)-ye(expr[i]))
  .attr("fill","#1e96cc").attr("stroke","#000").attr("stroke-width",3.5);
ge.selectAll(".base").data(times).enter().append("line").attr("class","base")
  .attr("x1",d=>xe(d)-35).attr("x2",d=>xe(d)+35).attr("y1",ye(0)-1).attr("y2",ye(0)-1).attr("stroke","#8b1a1a").attr("stroke-width",1.5);
ge.selectAll(".err").data(times).enter().append("path").attr("class","err")
  .attr("d",function(d,i) {
    var c = xe(d);
    return "M"+(c-6.5)+","+ye(exprHi[i])+"H"+(c+6.5)+"M"+c+","+ye(exprHi[i])+"V"+ye(exprLo[i])+"M"+(c-6.5)+","+ye(exprLo[i])+"H"+(c+6.5);
  }).attr("fill","none").attr("stroke","#000").attr("stroke-width",2);
ge.append("line").attr("x1",1123).attr("x2",1123).attr("y1",1240).attr("y2",1917.5).attr("stroke","#000").attr("stroke-width",2.5);
ge.append("line").attr("x1",1106).attr("x2",1898).attr("y1",1917.5).attr("y2",1917.5).attr("stroke","#000").attr("stroke-width",2.5);
var yea = ge.append("g").attr("transform","translate(1123,0)")
  .call(d3.axisLeft(ye).tickValues([0,.01,.02,.03,.04]).tickFormat(d=>d==0?"0":d3.format(".2f")(d)).tickSize(16).tickPadding(5));
yea.select(".domain").remove();
axisStyle(yea,25,2.5);
var xea = ge.append("g").attr("transform","translate(0,1917.5)")
  .call(d3.axisBottom(xe).tickSize(14).tickPadding(11));
xea.select(".domain").remove();
axisStyle(xea,25,2.5);
ge.append("text").attr("x",1524).attr("y",2000).attr("text-anchor","middle").attr("font-size",32).attr("font-weight","bold").text("Time(DPA)");
ge.append("text").attr("transform","translate(1021,1594) rotate(-90)").attr("text-anchor","middle").attr("font-size",33).attr("font-weight","bold").text("Relative expression");

panelLabel("a",9,27);
panelLabel("b",10,567);
panelLabel("c",11,1530);
panelLabel("d",914,568);
panelLabel("e",957,1269);
</script>
</body>
</html>
